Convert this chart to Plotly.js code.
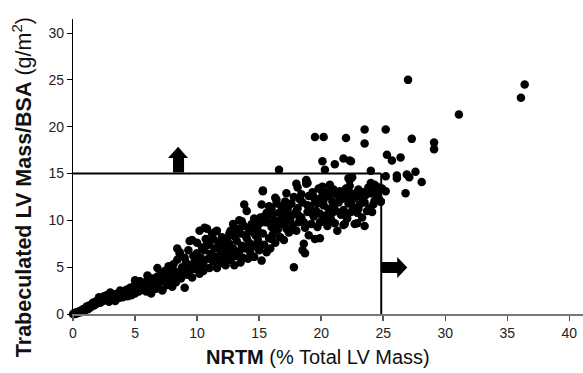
<!DOCTYPE html>
<html><head><meta charset="utf-8">
<script src="https://cdn.plot.ly/plotly-3.0.1.min.js"></script>
<style>html,body{margin:0;padding:0;background:#fff}#c{width:583px;height:373px}</style>
</head><body><div id="c"></div>
<script>
// NRTM (% total LV mass) vs trabeculated LV mass/BSA (g/m^2)
const nrtm = [
0.0,0.1,0.15,0.2,0.3,0.4,0.5,0.6,0.7,0.8,0.9,1.0,1.1,1.2,1.3,1.4,1.5,1.6,1.7,1.8,1.9,2.0,2.1,2.2,2.3,2.4,2.5,
2.6,2.7,2.8,2.9,3.0,3.1,3.2,3.3,3.4,3.5,3.6,3.7,3.8,3.9,4.0,4.1,4.2,4.3,4.4,4.5,4.6,4.7,4.8,4.9,5.0,5.0,
5.1,5.2,5.3,5.4,5.5,5.6,5.7,5.8,5.9,6.0,6.0,6.1,6.2,6.3,6.4,6.5,6.6,6.7,6.8,6.8,6.9,7.0,7.1,7.2,7.3,7.4,7.5,7.6,7.7,7.8,7.9,8.0,8.0,
8.1,8.2,8.3,8.4,8.4,8.5,8.6,8.7,8.8,8.9,9.0,9.0,9.1,9.2,9.3,9.4,9.4,9.5,9.6,9.7,9.8,9.9,10.0,10.0,10.1,10.2,10.2,10.3,10.4,10.5,10.5,
10.6,10.7,10.8,10.9,11.0,11.0,11.1,11.2,11.3,11.4,11.5,11.6,11.6,11.7,11.8,11.9,12.0,12.0,12.1,12.2,12.3,12.4,12.5,12.6,12.7,12.8,12.9,12.9,13.0,13.0,
13.1,13.2,13.3,13.4,13.5,13.5,13.6,13.7,13.8,13.8,13.9,14.0,14.0,14.1,14.2,14.3,14.4,14.4,14.5,14.6,14.7,14.8,14.9,15.0,15.1,15.2,15.2,15.3,15.3,15.4,15.5,15.6,15.7,15.8,15.9,16.0,16.0,
16.1,16.2,16.3,16.4,16.5,16.6,16.6,16.7,16.8,16.9,17.0,17.0,17.1,17.2,17.2,17.3,17.4,17.5,17.6,17.7,17.8,17.8,17.9,18.0,18.0,18.1,18.2,18.3,18.4,18.5,18.5,18.6,18.7,18.8,18.8,18.9,19.0,19.0,
19.1,19.2,19.3,19.4,19.5,19.5,19.6,19.7,19.8,19.9,20.0,20.1,20.1,20.2,20.3,20.4,20.5,20.6,20.7,20.8,20.9,21.0,21.1,21.2,21.3,21.4,21.5,21.6,21.7,21.8,21.9,22.0,22.0,
22.1,22.2,22.3,22.4,22.5,22.6,22.7,22.8,22.9,23.0,23.1,23.2,23.3,23.4,23.5,23.5,23.6,23.8,23.9,24.0,24.1,24.2,24.3,24.5,24.6,24.8,24.9,
27.0,36.4,36.1,31.1,19.5,20.2,22.0,23.5,23.5,25.2,27.3,29.1,29.1,20.1,21.1,21.8,22.3,22.4,20.3,24.0,25.3,25.7,26.4,25.2,26.1,26.1,26.9,27.6,27.1,28.1,18.8,22.2,25.2,26.8,24.8,
15.3,16.3,16.4,15.6,15.7,18.1,18.9,20.1,20.7,21.0,22.3,22.5,24.0,24.3,18.7,19.9,21.8,22.9,10.6,11.5,9.6,8.6,7.2,
12.2,12.6,13.2,13.6,13.9,14.2,14.6,14.9,15.0,15.4,15.8,16.1,16.3,16.7,16.9,17.1,17.4,17.6,17.8,18.0,18.2,18.4,18.6,18.9,19.2,19.4,19.7,19.9,20.2,20.4,20.6,20.9,21.2,21.5,21.8,22.1,22.4,22.7,23.0,23.3,23.7,24.2,24.5,13.4,12.7,11.8,11.3,10.8,10.0,9.2,14.8,16.0,13.0,12.4
];
const trabMass = [
0.0,0.1,0.05,0.0,0.2,0.1,0.3,0.2,0.4,0.5,0.3,0.6,0.8,0.5,0.9,0.7,1.0,1.2,0.9,1.3,1.1,1.5,1.8,1.2,1.6,1.4,1.9,
1.5,2.0,1.7,1.3,2.3,1.8,1.6,2.1,1.4,1.9,2.2,1.7,2.5,2.0,1.8,2.4,2.1,2.6,1.9,2.3,2.8,2.0,2.5,3.0,2.2,3.6,
2.7,3.2,2.4,3.5,2.9,2.6,3.3,3.0,2.4,4.1,3.6,2.8,3.2,2.2,3.8,3.0,3.5,2.7,4.9,4.0,3.3,3.8,4.3,2.5,3.5,4.6,3.9,3.1,5.1,4.2,3.6,2.9,4.8,
5.3,4.0,3.4,7.0,5.8,4.5,6.4,3.8,5.0,4.4,2.8,6.0,5.5,4.2,6.8,7.8,5.2,4.7,3.9,6.2,5.6,4.8,7.6,6.5,5.1,8.9,4.3,6.0,7.1,5.4,4.6,
6.8,8.0,9.1,5.9,7.4,4.9,6.4,8.6,5.6,7.0,6.1,8.9,4.9,7.7,5.4,6.7,8.2,5.9,7.2,6.4,5.2,8.0,6.9,7.5,5.8,6.6,9.6,7.0,5.2,8.3,
6.2,7.8,9.1,6.7,5.5,8.6,7.3,6.0,11.7,9.4,7.0,11.0,8.1,5.9,7.6,6.5,9.6,8.8,7.2,6.1,8.4,9.2,7.9,6.8,10.3,11.7,5.7,13.1,8.6,7.4,9.8,6.6,10.6,8.1,7.0,9.3,11.2,
8.5,10.0,7.6,12.2,9.0,15.4,10.8,8.2,11.5,9.6,7.9,10.4,12.0,12.9,9.1,11.0,8.7,10.1,11.8,9.5,5.0,12.5,10.7,13.9,8.9,11.3,9.8,12.2,10.3,6.8,11.9,7.5,9.2,14.2,13.9,10.9,12.6,8.4,
11.5,9.6,13.0,10.4,8.0,12.1,11.0,9.3,13.4,10.7,12.4,13.6,9.9,11.6,10.5,12.9,9.4,11.2,13.2,10.1,12.0,11.5,9.7,12.8,8.9,11.9,13.1,10.6,12.3,11.1,9.6,13.4,10.4,
12.6,11.8,13.7,10.9,12.2,11.4,9.6,12.9,10.8,13.3,11.7,12.5,10.3,13.0,9.4,11.9,12.7,13.5,11.3,12.9,10.9,13.2,12.1,13.6,12.4,12.0,13.4,
25.0,24.5,23.1,21.3,18.9,18.9,18.8,19.7,18.2,19.7,18.7,18.3,17.6,16.3,16.0,16.6,16.4,16.3,15.4,15.3,17.0,16.4,16.7,14.7,14.8,14.5,14.9,15.2,14.6,14.1,14.3,14.5,13.1,12.9,12.0,
13.2,12.4,11.8,10.8,9.8,13.5,14.0,13.0,13.8,13.3,14.3,14.6,14.0,13.8,6.5,8.1,9.5,9.7,9.2,8.8,7.9,6.6,2.6,
7.8,8.6,8.8,9.9,8.4,9.0,10.2,8.9,9.6,10.4,11.5,10.6,9.4,10.0,11.2,9.8,11.6,10.5,9.0,11.0,10.5,12.8,9.8,11.6,10.8,12.5,11.8,9.8,12.2,10.0,12.6,10.8,11.0,12.4,12.8,10.2,12.9,12.4,11.2,12.9,11.0,11.7,12.8,10.0,8.9,7.2,8.0,7.5,5.8,5.0,7.5,8.0,6.5,6.0
];
const xTicks = [0,5,10,15,20,25,30,35,40];
const yTicks = [0,5,10,15,20,25,30];
const nrtmCut = 24.84;   // vertical threshold line
const massCut = 15;      // horizontal threshold line

const shapes = [
  {type:'line', xref:'x', yref:'y', x0:0, x1:nrtmCut, y0:massCut, y1:massCut, line:{color:'#000', width:2}},
  {type:'line', xref:'x', yref:'y', x0:nrtmCut, x1:nrtmCut, y0:0, y1:massCut, line:{color:'#000', width:2}},
  {type:'path', xref:'x', yref:'y', fillcolor:'#000', line:{color:'#000', width:0},
   path:'M 8.06 15.1 L 8.06 16.65 L 7.66 16.65 L 8.47 17.85 L 9.27 16.65 L 8.95 16.65 L 8.95 15.1 Z'},
  {type:'path', xref:'x', yref:'y', fillcolor:'#000', line:{color:'#000', width:0},
   path:'M 24.9 5.55 L 26.13 5.55 L 26.13 6.09 L 26.94 4.97 L 26.13 3.84 L 26.13 4.38 L 24.9 4.38 Z'}
];

Plotly.newPlot('c', [{
  x: nrtm, y: trabMass, type:'scatter', mode:'markers', cliponaxis:false,
  marker:{color:'#000', size:8.5, line:{width:0}}, hoverinfo:'skip'
}], {
  width:583, height:373,
  margin:{l:73, r:0, t:19, b:59},
  paper_bgcolor:'#fff', plot_bgcolor:'#fff',
  showlegend:false,
  font:{family:'Liberation Sans, Arial, sans-serif', color:'#222'},
  xaxis:{range:[0,41.1], tickvals:xTicks, ticktext:xTicks.map(String), ticks:'outside', ticklen:5, tickwidth:1.5, tickcolor:'#555',
    showline:true, linecolor:'#777', linewidth:2, showgrid:false, zeroline:false,
    tickfont:{size:14, color:'#222'}},
  yaxis:{range:[0,31.5], tickvals:yTicks, ticktext:yTicks.map(String), ticks:'outside', ticklen:5, tickwidth:1, tickcolor:'#000',
    showline:true, linecolor:'#000', linewidth:1.2, showgrid:false, zeroline:false,
    tickfont:{size:14, color:'#222'}},
  annotations:[
    {text:'<b>NRTM</b> (% Total LV Mass)', xref:'paper', yref:'paper', x:0.48, y:-0.147, xanchor:'center', yanchor:'middle',
     showarrow:false, font:{size:20, color:'#111'}},
    {text:'<b>Trabeculated LV Mass/BSA</b> (g/m<sup>2</sup>)', xref:'paper', yref:'paper', x:-0.1, y:0.43, xanchor:'center', yanchor:'middle',
     textangle:-90, showarrow:false, font:{size:21.5, color:'#111'}}
  ],
  shapes: shapes
}, {staticPlot:true, displayModeBar:false});
</script>
</body></html>
